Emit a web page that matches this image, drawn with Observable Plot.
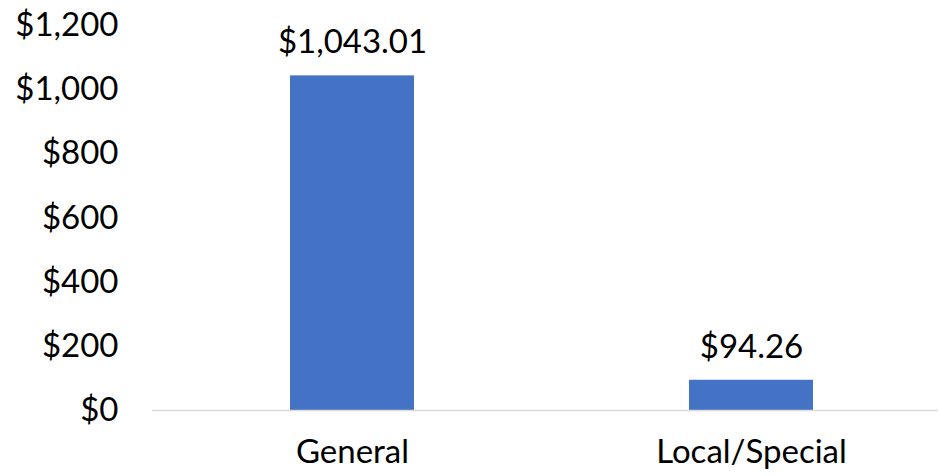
<!DOCTYPE html>
<html>
<head>
<meta charset="utf-8">
<script src="https://cdn.jsdelivr.net/npm/d3@7"></script>
<script src="https://cdn.jsdelivr.net/npm/@observablehq/plot@0.6"></script>
<style>
  html, body { margin: 0; padding: 0; background: #fff; }
  #chart { width: 940px; height: 476px; }
</style>
</head>
<body>
<div id="chart"></div>
<script>
const categories = ["General", "Local/Special"];
const values = [1043.01, 94.26];
const yTicks = [0, 200, 400, 600, 800, 1000, 1200];

const data = categories.map((c, i) => ({category: c, value: values[i]}));
const fmtTick = d => "$" + d3.format(",")(d);
const fmtVal = d3.format("$,.2f");

const chart = Plot.plot({
  width: 940,
  height: 476,
  marginLeft: 152,
  marginRight: 2,
  marginTop: 25,
  marginBottom: 66,
  style: {fontFamily: "Lato, 'Open Sans', sans-serif", fontSize: "33px", color: "#000", background: "#fff"},
  x: {domain: categories, range: [152.5, 950.5], paddingInner: 0.689, paddingOuter: 0.3445, label: null},
  y: {domain: [0, 1200], label: null},
  marks: [
    Plot.axisY({ticks: yTicks, tickFormat: fmtTick, tickSize: 0, tickPadding: 34, label: null, fontSize: 33}),
    Plot.axisX({tickSize: 0, tickPadding: 29, label: null, fontSize: 33}),
    Plot.barY(data, {x: "category", y: "value", fill: "#4472C4"}),
    Plot.ruleY([0], {stroke: "#d9d9d9", strokeWidth: 1.5}),
    Plot.text(data, {x: "category", y: "value", text: d => fmtVal(d.value), dy: -33, fill: "#000", fontSize: 33})
  ]
});
document.getElementById("chart").appendChild(chart);
</script>
</body>
</html>
